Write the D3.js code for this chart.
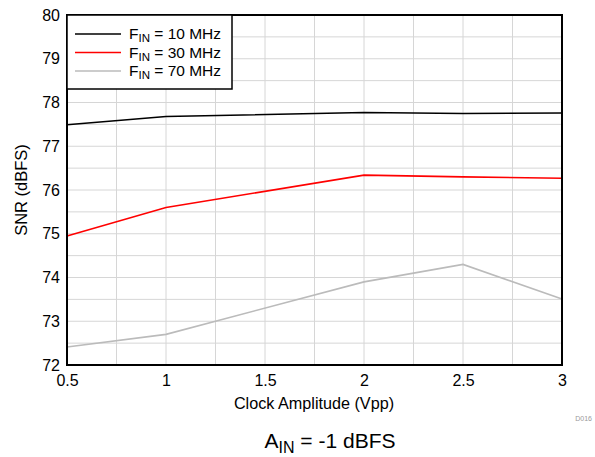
<!DOCTYPE html>
<html><head><meta charset="utf-8">
<script src="https://cdn.jsdelivr.net/npm/d3@7"></script>
<style>body{margin:0;background:#fff}text{font-family:"Liberation Sans",Arial,sans-serif}</style>
</head><body><svg id="c" width="595" height="457"></svg>
<script>
const xVals = [0.5, 1, 2, 2.5, 3];
const snr10 = [77.49, 77.68, 77.77, 77.75, 77.76];
const snr30 = [74.95, 75.6, 76.34, 76.3, 76.27];
const snr70 = [72.41, 72.7, 73.9, 74.3, 73.51];
const seriesNames = ["10 MHz", "30 MHz", "70 MHz"];
const seriesColors = ["#000000", "#ff0000", "#bbbbbb"];
const xTicks = [0.5, 1, 1.5, 2, 2.5, 3];
const yTicks = [72, 73, 74, 75, 76, 77, 78, 79, 80];

const svg = d3.select("#c");
const L = 67, R = 562, T = 15, B = 365;
const x = d3.scaleLinear().domain([0.5, 3]).range([L, R]);
const y = d3.scaleLinear().domain([72, 80]).range([B, T]);

// grid
const g = svg.append("g");
g.selectAll(".vx").data(d3.range(0.75, 3, 0.25)).enter().append("line")
  .attr("x1", d => x(d)).attr("x2", d => x(d)).attr("y1", T).attr("y2", B)
  .attr("stroke", "#d6d6d6").attr("stroke-width", 1);
g.selectAll(".hy").data(d3.range(72.5, 80, 0.5)).enter().append("line")
  .attr("y1", d => y(d)).attr("y2", d => y(d)).attr("x1", L).attr("x2", R)
  .attr("stroke", "#d6d6d6").attr("stroke-width", 1);

// lines
const series = [snr10, snr30, snr70];
const line = d3.line().x((d, i) => x(xVals[i])).y(d => y(d));
series.slice().reverse().forEach((s, k) => {
  const i = 2 - k;
  svg.append("path").datum(s).attr("d", line).attr("fill", "none")
    .attr("stroke", seriesColors[i]).attr("stroke-width", 1.6);
});

// frame
svg.append("rect").attr("x", L).attr("y", T).attr("width", R - L).attr("height", B - T)
  .attr("fill", "none").attr("stroke", "#000").attr("stroke-width", 2);

// axes labels
const xa = svg.append("g").attr("transform", `translate(0,${B})`)
  .call(d3.axisBottom(x).tickValues(xTicks).tickSize(0).tickPadding(10).tickFormat(d3.format("")));
xa.select(".domain").remove();
xa.selectAll("text").attr("font-size", 16).attr("fill", "#000").style("font-family", "Liberation Sans, Arial, sans-serif");
const ya = svg.append("g").attr("transform", `translate(${L},0)`)
  .call(d3.axisLeft(y).tickValues(yTicks).tickSize(0).tickPadding(7).tickFormat(d3.format("d")));
ya.select(".domain").remove();
ya.selectAll("text").attr("font-size", 16).attr("fill", "#000").style("font-family", "Liberation Sans, Arial, sans-serif");

svg.append("text").attr("x", 314).attr("y", 409).attr("text-anchor", "middle")
  .attr("font-size", 16.2).text("Clock Amplitude (Vpp)");
svg.append("text").attr("transform", `translate(27,${(T + B) / 2}) rotate(-90)`)
  .attr("text-anchor", "middle").attr("font-size", 16.5).text("SNR (dBFS)");
svg.append("text").attr("x", 592).attr("y", 421).attr("text-anchor", "end")
  .attr("font-size", 7).attr("fill", "#999").text("D016");

const cap = svg.append("text").attr("x", 330).attr("y", 448).attr("text-anchor", "middle").attr("font-size", 21);
cap.append("tspan").text("A");
cap.append("tspan").attr("dy", 5).attr("font-size", 16).text("IN");
cap.append("tspan").attr("dy", -5).text(" = -1 dBFS");

// legend
svg.append("rect").attr("x", L).attr("y", T).attr("width", 165).attr("height", 74)
  .attr("fill", "#fff").attr("stroke", "#000").attr("stroke-width", 1.5);
seriesNames.forEach((n, i) => {
  const yy = 34 + i * 18.5;
  svg.append("line").attr("x1", 75).attr("x2", 121).attr("y1", yy).attr("y2", yy)
    .attr("stroke", seriesColors[i]).attr("stroke-width", 1.6);
  const t = svg.append("text").attr("x", 129).attr("y", yy + 5).attr("font-size", 15.5);
  t.append("tspan").text("F");
  t.append("tspan").attr("dy", 3).attr("font-size", 11.5).text("IN");
  t.append("tspan").attr("dy", -3).text(" = " + n);
});
</script></body></html>
